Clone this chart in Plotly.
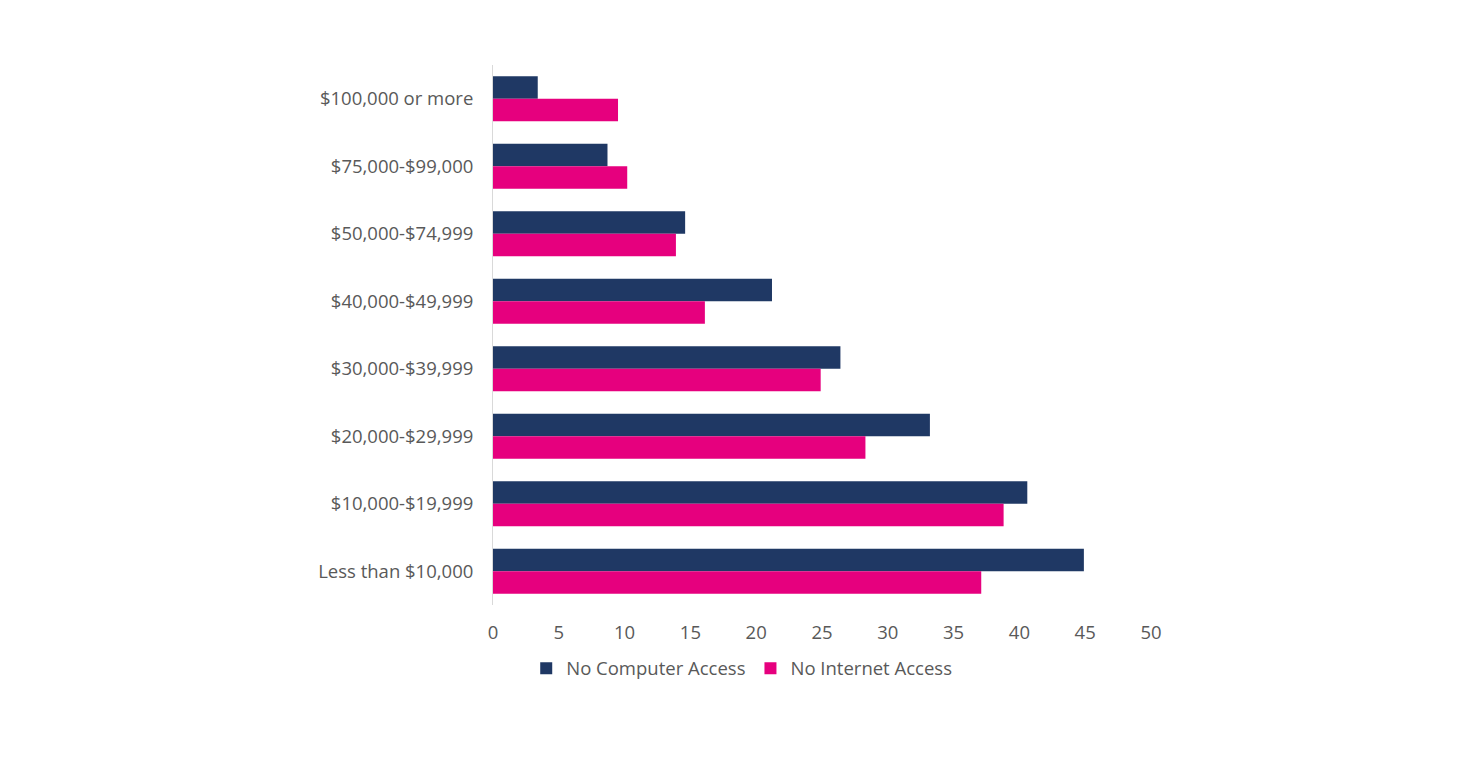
import plotly.graph_objects as go

categories = ["$100,000 or more", "$75,000-$99,000", "$50,000-$74,999", "$40,000-$49,999",
              "$30,000-$39,999", "$20,000-$29,999", "$10,000-$19,999", "Less than $10,000"]
no_computer = [3.4, 8.7, 14.6, 21.2, 26.4, 33.2, 40.6, 44.9]
no_internet = [9.5, 10.2, 13.9, 16.1, 24.9, 28.3, 38.8, 37.1]
x_ticks = [0, 5, 10, 15, 20, 25, 30, 35, 40, 45, 50]

font_family = "Open Sans, Liberation Sans, sans-serif"
text_color = "#595959"

fig = go.Figure()
fig.add_trace(go.Bar(y=categories, x=no_computer, orientation="h", name="No Computer Access",
                     marker=dict(color="#1F3864", line=dict(width=0))))
fig.add_trace(go.Bar(y=categories, x=no_internet, orientation="h", name="No Internet Access",
                     marker=dict(color="#E6007E", line=dict(width=0))))

fig.update_layout(
    width=1472, height=772,
    margin=dict(l=485, r=329, t=57, b=175),
    barmode="group", bargap=0.33, bargroupgap=0,
    plot_bgcolor="white", paper_bgcolor="white",
    font=dict(family=font_family, size=18.5, color=text_color),
    showlegend=True,
    legend=dict(orientation="h", x=0.378, xanchor="center", y=-0.118, yanchor="middle",
                font=dict(size=18.5, color=text_color), itemwidth=30, traceorder="normal"),
)
fig.update_xaxes(range=[0, 50], tickvals=x_ticks, showgrid=False, zeroline=False,
                 showline=False, ticks="outside", ticklen=11, tickcolor="rgba(0,0,0,0)",
                 tickfont=dict(size=18.5, color=text_color))
fig.update_yaxes(autorange="reversed", showgrid=False, showline=True, linecolor="#D9D9D9",
                 linewidth=1, ticks="outside", ticklen=15, tickcolor="rgba(0,0,0,0)",
                 tickfont=dict(size=18.5, color=text_color))

fig.write_html("out.html")
